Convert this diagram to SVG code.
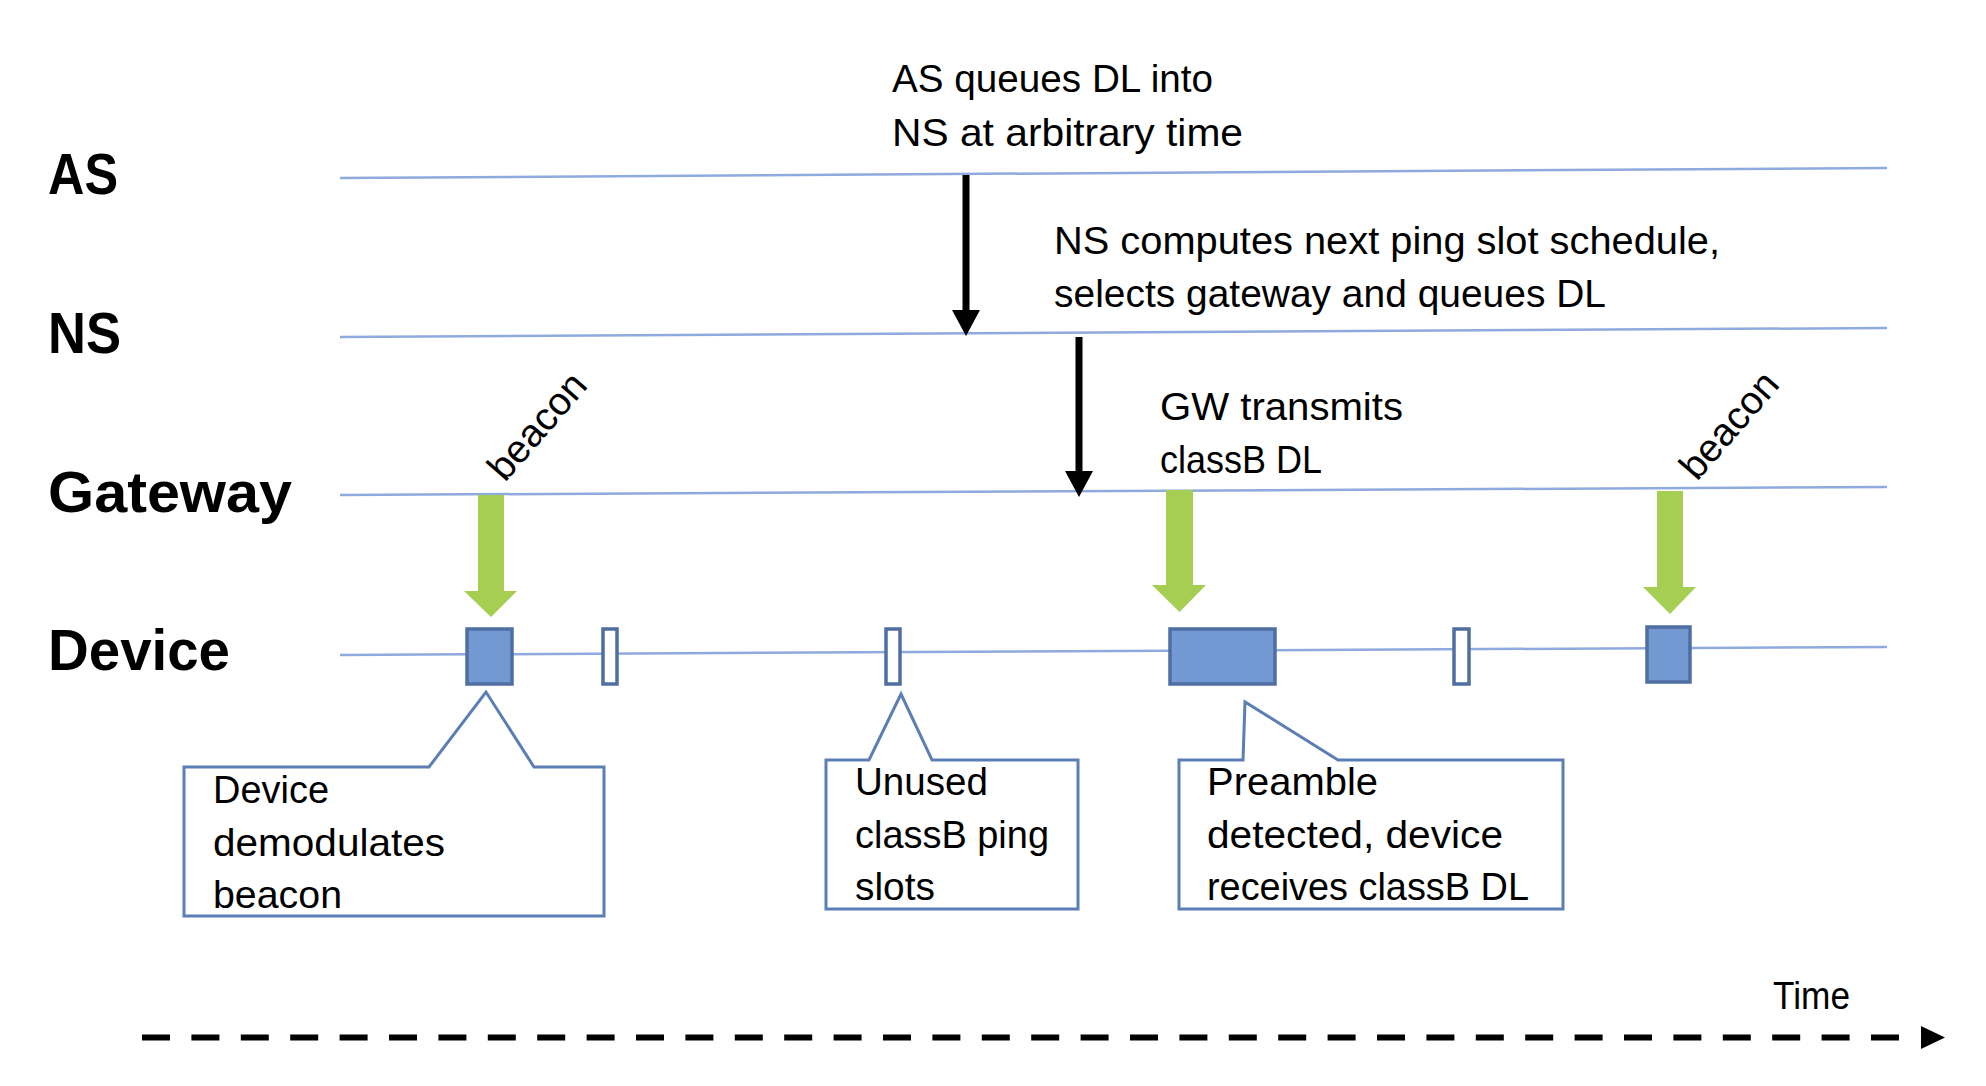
<svg xmlns="http://www.w3.org/2000/svg" width="1986" height="1086" viewBox="0 0 1986 1086">
<style>
.lane{stroke:#8FAADC;stroke-width:2.5;fill:none}
.lbl{font-family:"Liberation Sans",Arial,sans-serif;font-weight:bold;font-size:57px;fill:#000}
.txt{font-family:"Liberation Sans",Arial,sans-serif;font-size:39px;fill:#000}
.slot{fill:#7399D3;stroke:#4F6FA3;stroke-width:3.5}
.ping{fill:#fff;stroke:#4F6FA3;stroke-width:3.5}
.green{fill:#A6CE52}
.call{fill:#fff;stroke:#5B7FB4;stroke-width:3}
.blk{stroke:#000;stroke-width:7;fill:none}
.head{fill:#000}
</style>
<rect width="1986" height="1086" fill="#fff"/>
<g id="lanes">
<line class="lane" x1="340" y1="178" x2="1887" y2="168"/>
<line class="lane" x1="340" y1="337" x2="1887" y2="328"/>
<line class="lane" x1="340" y1="495" x2="1887" y2="487"/>
<line class="lane" x1="340" y1="655" x2="1887" y2="647"/>
</g>
<g id="lane-labels">
<text id="label-as" class="lbl" x="48" y="194" textLength="70" lengthAdjust="spacingAndGlyphs">AS</text>
<text id="label-ns" class="lbl" x="48" y="353" textLength="73" lengthAdjust="spacingAndGlyphs">NS</text>
<text id="label-gateway" class="lbl" x="48" y="512" textLength="244" lengthAdjust="spacingAndGlyphs">Gateway</text>
<text id="label-device" class="lbl" x="48" y="670" textLength="182" lengthAdjust="spacingAndGlyphs">Device</text>
</g>
<g id="connectors">
<line class="blk" x1="966" y1="175" x2="966" y2="312"/>
<polygon class="head" points="952,310 980,310 966,336"/>
<line class="blk" x1="1079" y1="337" x2="1079" y2="473"/>
<polygon class="head" points="1065,471 1093,471 1079,497"/>
<polygon id="beacon-arrow-1" class="green" points="478,495 504,495 504,591 517,591 491,617 464,591 478,591"/>
<polygon id="dl-arrow" class="green" points="1166,490 1193,490 1193,585 1206,585 1179.5,612 1152,585 1166,585"/>
<polygon id="beacon-arrow-2" class="green" points="1657,491 1683,491 1683,587 1696,587 1670,614 1643,587 1657,587"/>
<line x1="142" y1="1037.5" x2="1900" y2="1037.5" stroke="#000" stroke-width="6" stroke-dasharray="28 21.4"/>
<polygon class="head" points="1921,1026 1921,1049 1945,1037.5"/>
</g>
<g id="device-slots">
<rect id="slot-beacon-1" class="slot" x="467" y="629" width="45" height="55"/>
<rect id="ping-1" class="ping" x="603" y="629" width="14" height="55"/>
<rect id="ping-2" class="ping" x="886" y="629" width="14" height="55"/>
<rect id="slot-dl" class="slot" x="1170" y="629" width="105" height="55"/>
<rect id="ping-3" class="ping" x="1454" y="629" width="15" height="55"/>
<rect id="slot-beacon-2" class="slot" x="1647" y="627" width="43" height="55"/>
</g>
<g id="note-as">
<text class="txt" x="892" y="92" textLength="321" lengthAdjust="spacingAndGlyphs">AS queues DL into</text>
<text class="txt" x="892" y="146" textLength="351" lengthAdjust="spacingAndGlyphs">NS at arbitrary time</text>
</g>
<g id="note-ns">
<text class="txt" x="1054" y="254" textLength="666" lengthAdjust="spacingAndGlyphs">NS computes next ping slot schedule,</text>
<text class="txt" x="1054" y="307" textLength="552" lengthAdjust="spacingAndGlyphs">selects gateway and queues DL</text>
</g>
<g id="note-gw">
<text class="txt" x="1160" y="420" textLength="243" lengthAdjust="spacingAndGlyphs">GW transmits</text>
<text class="txt" x="1160" y="473" textLength="162" lengthAdjust="spacingAndGlyphs">classB DL</text>
</g>
<g id="beacon-labels">
<text class="txt" transform="translate(505,483) rotate(-49)">beacon</text>
<text class="txt" transform="translate(1697,482) rotate(-49)">beacon</text>
</g>
<g id="callout-beacon">
<path class="call" d="M184,767 L429,767 L486,692 L534,767 L604,767 L604,916 L184,916 Z"/>
<text class="txt" x="213" y="803" textLength="116" lengthAdjust="spacingAndGlyphs">Device</text>
<text class="txt" x="213" y="856" textLength="232" lengthAdjust="spacingAndGlyphs">demodulates</text>
<text class="txt" x="213" y="908" textLength="129" lengthAdjust="spacingAndGlyphs">beacon</text>
</g>
<g id="callout-unused">
<path class="call" d="M826,760 L869,760 L901,694 L932,760 L1078,760 L1078,909 L826,909 Z"/>
<text class="txt" x="855" y="795" textLength="133" lengthAdjust="spacingAndGlyphs">Unused</text>
<text class="txt" x="855" y="848" textLength="194" lengthAdjust="spacingAndGlyphs">classB ping</text>
<text class="txt" x="855" y="900" textLength="80" lengthAdjust="spacingAndGlyphs">slots</text>
</g>
<g id="callout-preamble">
<path class="call" d="M1179,760 L1243,760 L1245,702 L1338,760 L1563,760 L1563,909 L1179,909 Z"/>
<text class="txt" x="1207" y="795" textLength="171" lengthAdjust="spacingAndGlyphs">Preamble</text>
<text class="txt" x="1207" y="848" textLength="296" lengthAdjust="spacingAndGlyphs">detected, device</text>
<text class="txt" x="1207" y="900" textLength="322" lengthAdjust="spacingAndGlyphs">receives classB DL</text>
</g>
<g id="time-label">
<text class="txt" x="1773" y="1009" font-size="37" textLength="77" lengthAdjust="spacingAndGlyphs">Time</text>
</g>
</svg>
